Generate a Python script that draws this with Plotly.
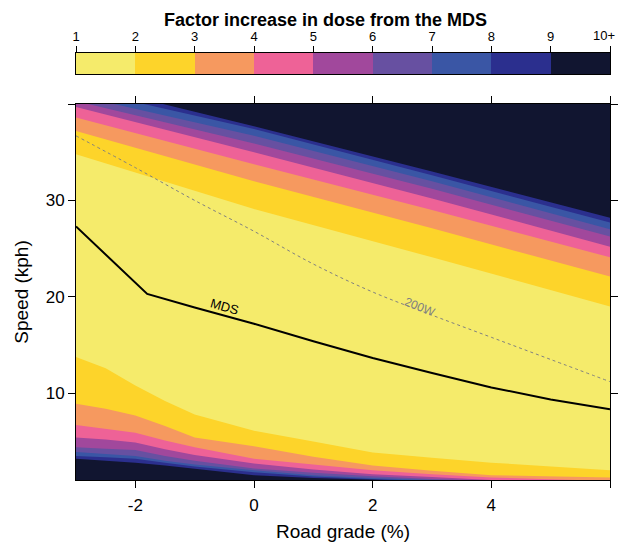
import plotly.graph_objects as go

# ---- factor-level boundaries (speed, kph) read along the road grade axis ----
# high-speed side of each level (factor = 2 ... 9)
UP_GRADE = [-3, 0, 3, 6]
upper_2 = [34.8, 29.1, 24.1, 19.0]
upper_3 = [37.2, 32.0, 27.1, 22.1]
upper_4 = [38.6, 33.75, 29.0, 24.1]
upper_5 = [39.7, 35.0, 30.2, 25.2]
upper_6 = [40.3, 35.9, 31.2, 26.25]
upper_7 = [40.9, 36.7, 32.0, 27.0]
upper_8 = [41.6, 37.4, 32.6, 27.7]
upper_9 = [42.2, 37.7, 33.0, 28.2]

# low-speed side of each level
LOW_GRADE = [-3, -2.5, -2, -1.5, -1, 0, 1, 2, 3, 4, 5, 6]
lower_2 = [13.75, 12.6, 10.8, 9.2, 7.8, 6.1, 5.0, 3.85, 3.3, 2.8, 2.4, 2.0]
lower_3 = [8.9, 8.4, 7.7, 6.6, 5.4, 4.5, 3.4, 2.5, 1.95, 1.5, 1.35, 1.25]
lower_4 = [6.7, 6.3, 5.9, 5.1, 4.4, 3.2, 2.6, 2.0, 1.6, 1.25, 1.05, 0.9]
lower_5 = [5.4, 5.2, 4.9, 4.2, 3.6, 2.7, 2.1, 1.6, 1.3, 1.0, 0.85, 0.7]
lower_6 = [4.4, 4.25, 4.1, 3.5, 3.0, 2.2, 1.75, 1.4, 1.1, 0.9, 0.75, 0.6]
lower_7 = [3.9, 3.7, 3.5, 3.0, 2.6, 2.0, 1.5, 1.2, 1.0, 0.8, 0.65, 0.5]
lower_8 = [3.5, 3.35, 3.2, 2.8, 2.4, 1.8, 1.35, 1.1, 0.9, 0.7, 0.6, 0.45]
lower_9 = [3.2, 3.0, 2.8, 2.5, 2.2, 1.5, 1.2, 1.0, 0.85, 0.7, 0.55, 0.4]

# minimum-dose speed curve
MDS_GRADE = [-3, -2.5, -2, -1.8, -1, 0, 1, 2, 3, 4, 5, 6]
MDS_SPEED = [27.3, 24.4, 21.5, 20.3, 18.9, 17.2, 15.4, 13.65, 12.1, 10.6, 9.35, 8.35]

# constant 200 W power curve
W200_GRADE = [-3, -2, -1, 0, 1, 2, 3, 4, 5, 6]
W200_SPEED = [36.7, 33.4, 30.0, 26.8, 23.4, 20.5, 18.1, 15.8, 13.5, 11.2]

# colour key
LEVELS = [1, 2, 3, 4, 5, 6, 7, 8, 9, 10]
LEVEL_LABELS = ["1", "2", "3", "4", "5", "6", "7", "8", "9", "10+"]
BAND_COLORS = ["#F5EB6B", "#FDD42A", "#F6995F", "#EE6297", "#A1489C",
               "#6750A1", "#3A56A5", "#2B2F8E", "#111530"]

upper = {2: upper_2, 3: upper_3, 4: upper_4, 5: upper_5,
         6: upper_6, 7: upper_7, 8: upper_8, 9: upper_9}
lower = {2: lower_2, 3: lower_3, 4: lower_4, 5: lower_5,
         6: lower_6, 7: lower_7, 8: lower_8, 9: lower_9}

FONT = "Liberation Sans, Arial, sans-serif"
fig = go.Figure()

# nested regions: factor < k, painted from the widest (k = 9) inwards
for k in range(9, 1, -1):
    xs = UP_GRADE + LOW_GRADE[::-1]
    ys = upper[k] + lower[k][::-1]
    fig.add_trace(go.Scatter(
        x=xs, y=ys, fill="toself", fillcolor=BAND_COLORS[k - 2],
        mode="lines", line=dict(width=0), hoverinfo="skip", showlegend=False,
        xaxis="x", yaxis="y"))

fig.add_trace(go.Scatter(
    x=W200_GRADE, y=W200_SPEED, mode="lines",
    line=dict(color="#808080", width=1, dash="dot", shape="spline"),
    showlegend=False, xaxis="x", yaxis="y"))
fig.add_trace(go.Scatter(
    x=MDS_GRADE, y=MDS_SPEED, mode="lines",
    line=dict(color="black", width=2),
    showlegend=False, xaxis="x", yaxis="y"))

# colour key as a one-row heatmap on its own axes
n = len(BAND_COLORS)
cscale = []
for i, c in enumerate(BAND_COLORS):
    cscale += [[i / n, c], [(i + 1) / n, c]]
fig.add_trace(go.Heatmap(
    x=LEVELS, y=[0, 1], z=[list(range(n))], zmin=-0.5, zmax=n - 0.5,
    colorscale=cscale, showscale=False, hoverinfo="skip",
    xaxis="x2", yaxis="y2"))

axis_common = dict(showline=True, linecolor="black", linewidth=1,
                   ticks="outside", ticklen=7, tickcolor="black",
                   showgrid=False, zeroline=False, automargin=False,
                   tickfont=dict(family=FONT, size=17, color="black"))

# the last key label sits at the page edge, so it is right-aligned there
key_ticktext = LEVEL_LABELS[:-1] + [""]

fig.update_layout(
    width=618, height=544,
    margin=dict(l=76, r=8, t=53, b=64, autoexpand=False),
    paper_bgcolor="white", plot_bgcolor="#111530",
    font=dict(family=FONT, color="black"),
    xaxis=dict(range=[-3, 6], domain=[0, 1], anchor="y", mirror="allticks",
               tickvals=[-2, 0, 2, 4, 6], ticktext=["-2", "0", "2", "4", ""],
               ticklabelstandoff=3,
               title=dict(text="Road grade (%)", font=dict(size=19), standoff=10),
               **axis_common),
    yaxis=dict(range=[1, 40], domain=[0, 0.88056], anchor="x", mirror="allticks",
               tickvals=[10, 20, 30, 40], ticktext=["10", "20", "30", ""],
               title=dict(text="Speed (kph)", font=dict(size=19), standoff=12),
               **axis_common),
    xaxis2=dict(range=[1, 10], domain=[0, 1], anchor="y2", side="top",
                tickvals=LEVELS, ticktext=key_ticktext, ticks="outside",
                ticklen=6, tickcolor="black", showline=True, linecolor="black",
                mirror=True, showgrid=False, zeroline=False, automargin=False,
                tickfont=dict(family=FONT, size=13, color="black")),
    yaxis2=dict(range=[0, 1], domain=[0.95082, 1.0], anchor="x2",
                showticklabels=False, ticks="", showline=True, automargin=False,
                linecolor="black", mirror=True, showgrid=False, zeroline=False),
    annotations=[
        dict(text="<b>Factor increase in dose from the MDS</b>", xref="paper",
             yref="paper", x=0.468, y=1.0773, showarrow=False,
             xanchor="center", yanchor="middle",
             font=dict(family=FONT, size=18, color="black")),
        dict(text=LEVEL_LABELS[-1], xref="paper", yref="paper",
             x=(617 - 76) / 534, y=(480 - 36) / 427, showarrow=False,
             xanchor="right", yanchor="middle",
             font=dict(family=FONT, size=13, color="black")),
        dict(text="MDS", x=-0.5, y=18.95, xref="x", yref="y", showarrow=False,
             textangle=16, font=dict(family=FONT, size=13, color="black")),
        dict(text="200W", x=2.8, y=18.95, xref="x", yref="y", showarrow=False,
             textangle=22, font=dict(family=FONT, size=12, color="#808080")),
    ],
)

fig.write_html("out.html")
